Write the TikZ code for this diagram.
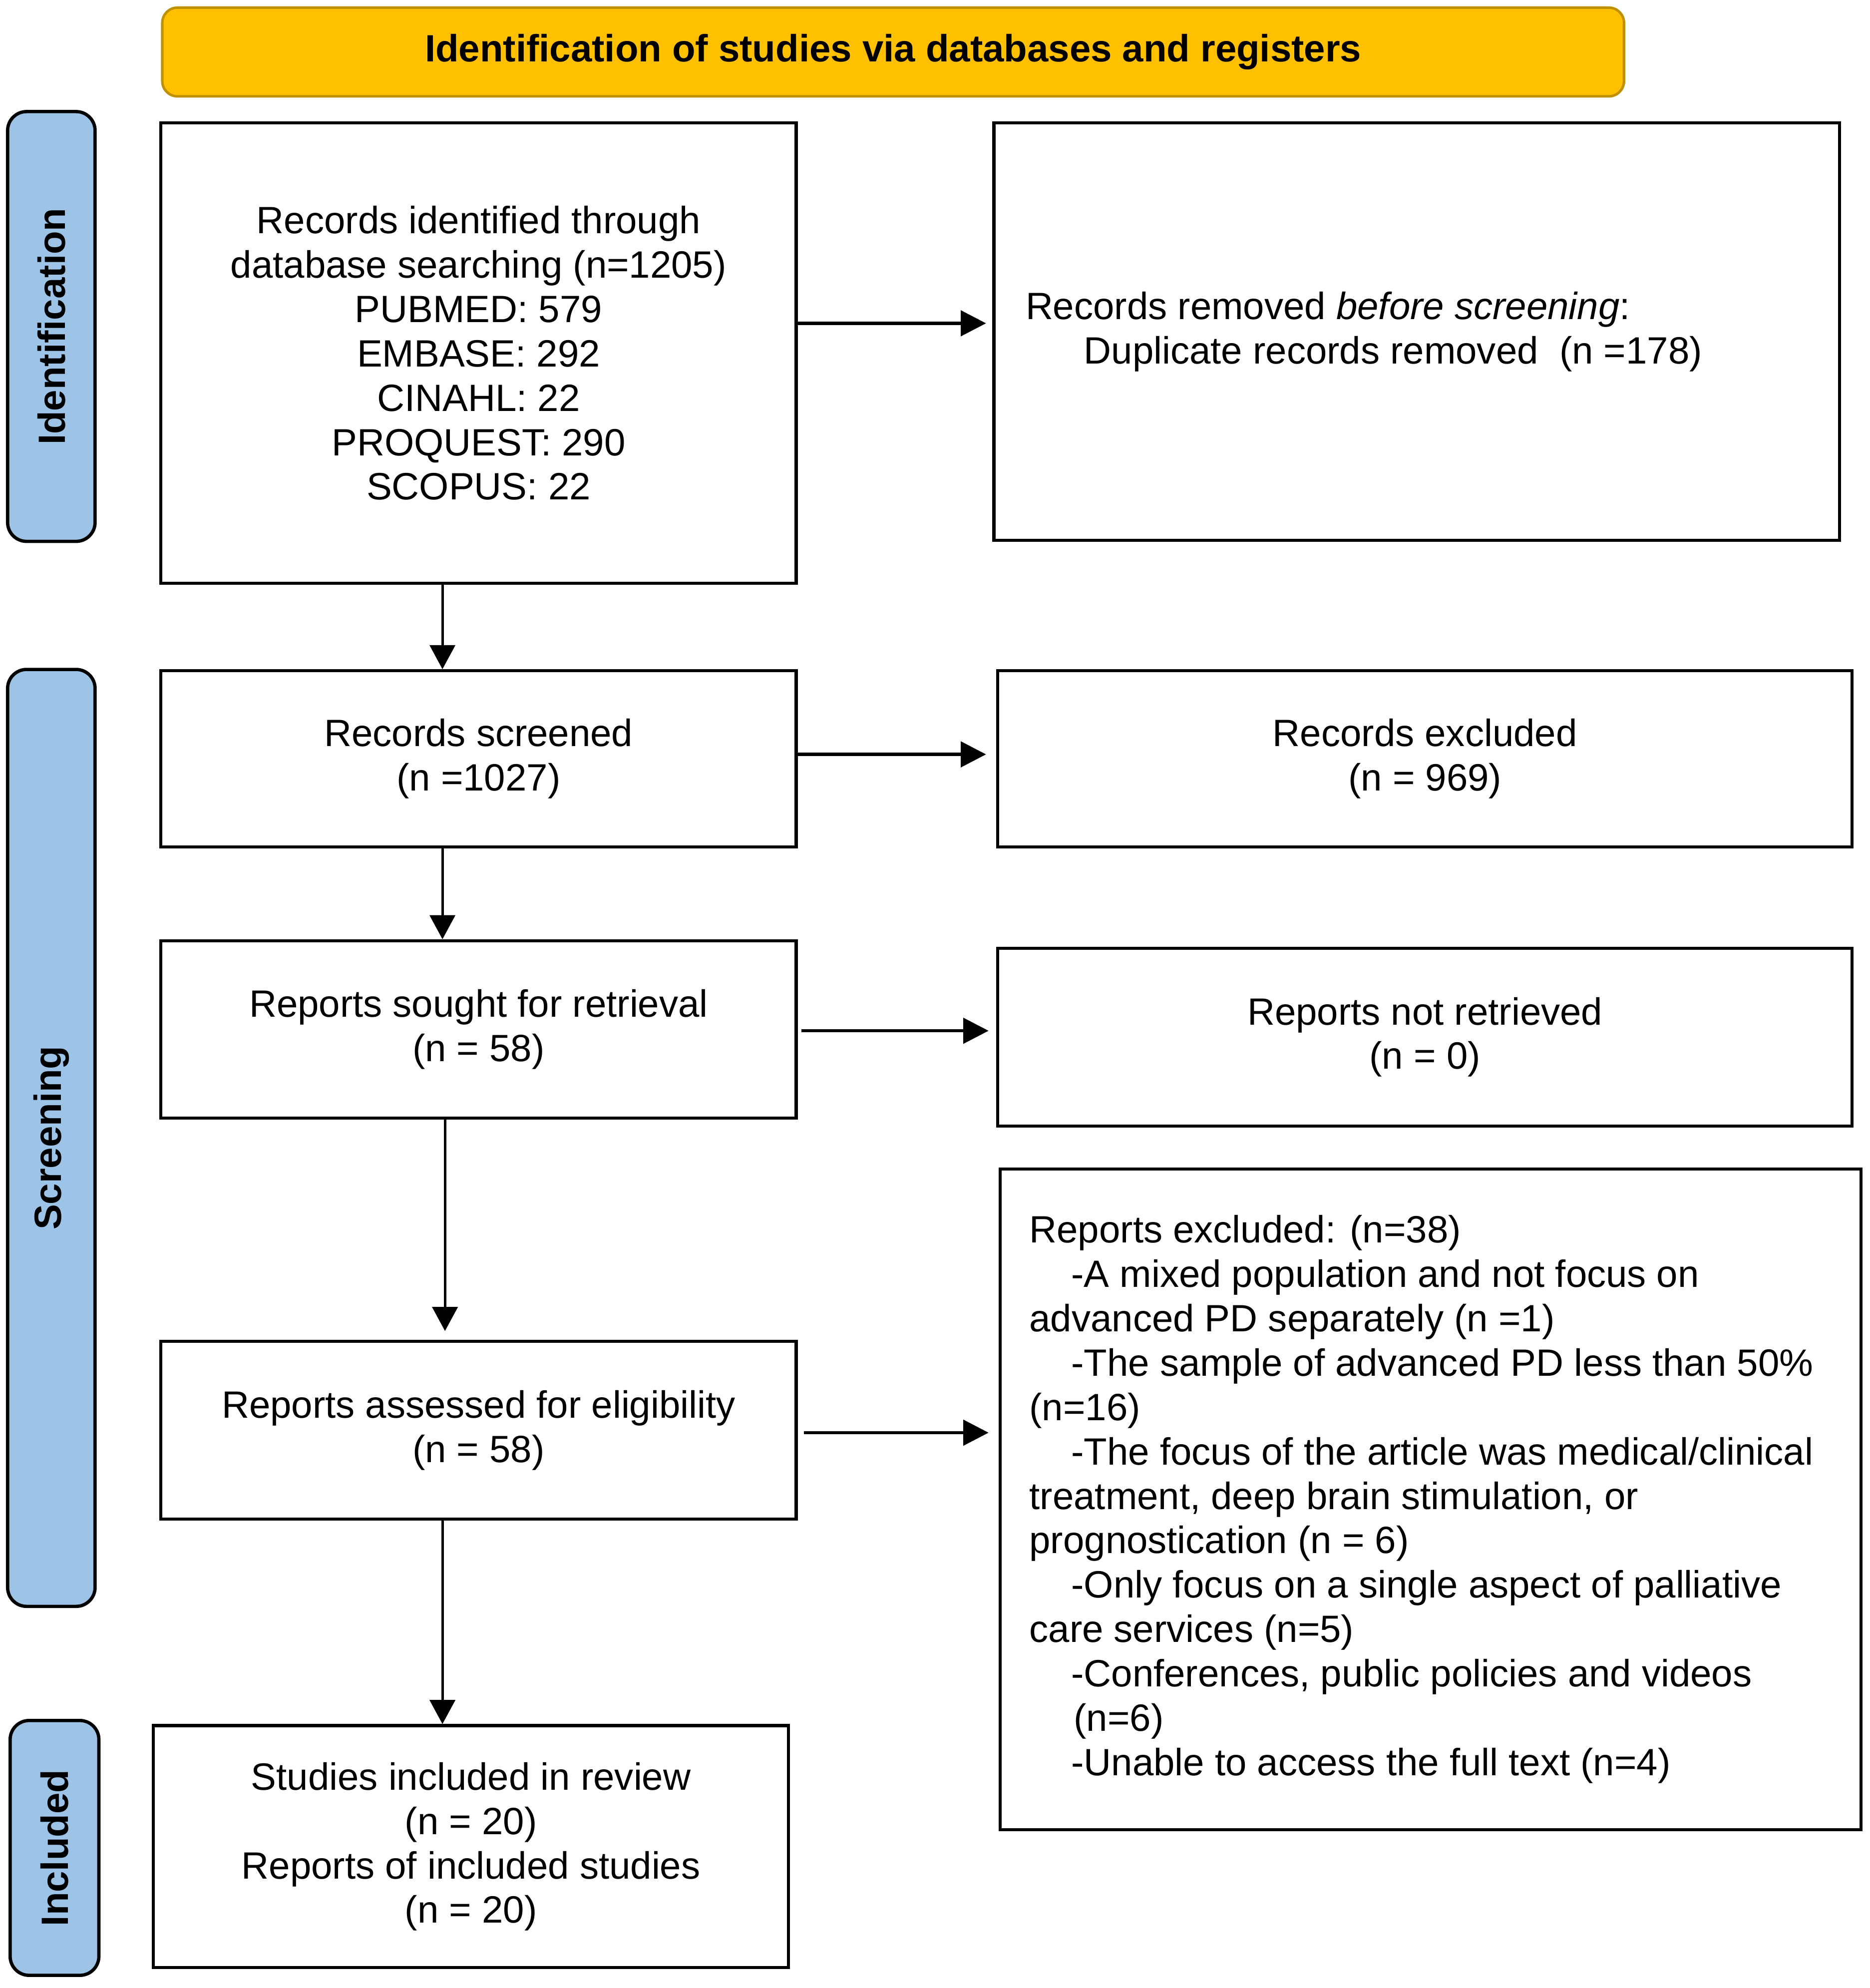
\documentclass[tikz,border=0pt]{standalone}
\usepackage{fontspec}
\setmainfont{Liberation Sans}
\usetikzlibrary{arrows.meta,positioning}
\definecolor{bannerfill}{HTML}{FFC000}
\definecolor{bannerline}{HTML}{BF9000}
\definecolor{barfill}{HTML}{9DC3E6}
\tikzset{
  box/.style={draw=black, line width=2.4pt, rectangle, align=center, inner sep=0pt,
    font=\fontsize{30}{35}\selectfont},
  txt/.style={align=left, inner sep=0pt, font=\fontsize{30}{35}\selectfont},
  bar/.style={draw=black, fill=barfill, line width=2.6pt, rounded corners=15pt, inner sep=0pt},
  barlabel/.style={rotate=90, font=\fontsize{30}{35}\selectfont\bfseries, inner sep=0pt},
  harrow/.style={line width=2.6pt, -{Triangle[length=20pt,width=20pt]}},
  varrow/.style={line width=2pt, -{Triangle[length=19pt,width=20pt]}}
}
\begin{document}
\begin{tikzpicture}[x=1pt,y=-1pt]
\useasboundingbox (0,0) rectangle (1474.7,1568);
% banner
\node[draw=bannerline, fill=bannerfill, line width=2pt, rounded corners=12pt,
  minimum width=1153pt, minimum height=70pt, inner sep=0pt,
  font=\fontsize{30}{34}\selectfont\bfseries] (banner) at (704.5,41)
  {Identification of studies via databases and registers};
% side bars
\node[bar, minimum width=69pt, minimum height=339pt] (barid) at (40.5,257.5) {};
\node[barlabel] (labid) at (barid.center) {Identification};
\node[bar, minimum width=69pt, minimum height=739pt] (barsc) at (40.5,897.5) {};
\node[barlabel] (labsc) at (barsc.center) {Screening};
\node[bar, minimum width=70pt, minimum height=201pt] (barin) at (43,1457.5) {};
\node[barlabel] (labin) at (barin.center) {Included};
% boxes
\node[box, minimum width=501pt, minimum height=363pt] (b1) at (377.5,278.5)
  {Records identified through\\database searching (n=1205)\\PUBMED: 579\\EMBASE: 292\\CINAHL: 22\\PROQUEST: 290\\SCOPUS: 22};
\node[box, minimum width=667pt, minimum height=329pt] (b2) at (1117.5,261.5) {};
\node[txt, anchor=west] (t2) at ([xshift=26pt]b2.west)
  {Records removed \textit{before screening}:\\\hspace*{46pt}Duplicate records removed\ \ (n =178)};
\node[box, minimum width=501pt, minimum height=139pt] (b3) at (377.5,598.5)
  {Records screened\\(n =1027)};
\node[box, minimum width=674pt, minimum height=139pt] (b4) at (1124,598.5)
  {Records excluded\\(n = 969)};
\node[box, minimum width=501pt, minimum height=140pt] (b5) at (377.5,812)
  {Reports sought for retrieval\\(n = 58)};
\node[box, minimum width=674pt, minimum height=140pt] (b6) at (1124,818)
  {Reports not retrieved\\(n = 0)};
\node[box, minimum width=501pt, minimum height=140pt] (b7) at (377.5,1128)
  {Reports assessed for eligibility\\(n = 58)};
\node[box, minimum width=679pt, minimum height=521pt] (b8) at (1128.5,1182.5) {};
\node[txt, anchor=west] (t8) at ([xshift=24pt]b8.west)
  {Reports excluded: (n=38)\\
   \hspace*{33pt}-A mixed population and not focus on\\
   advanced PD separately (n =1)\\
   \hspace*{33pt}-The sample of advanced PD less than 50\%\\
   (n=16)\\
   \hspace*{33pt}-The focus of the article was medical/clinical\\
   treatment, deep brain stimulation, or\\
   prognostication (n = 6)\\
   \hspace*{33pt}-Only focus on a single aspect of palliative\\
   care services (n=5)\\
   \hspace*{33pt}-Conferences, public policies and videos\\
   \hspace*{35pt}(n=6)\\
   \hspace*{33pt}-Unable to access the full text (n=4)};
\node[box, minimum width=501pt, minimum height=191pt] (b9) at (371.5,1456.5)
  {Studies included in review\\(n = 20)\\Reports of included studies\\(n = 20)};
% horizontal arrows
\draw[harrow] ([yshift=23.5pt]b1.east) -- ([yshift=23.5pt,xshift=-5pt]b1.east -| b2.west);
\draw[harrow] ([yshift=3.5pt]b3.east) -- ([yshift=3.5pt,xshift=-8pt]b3.east -| b4.west);
\draw[harrow] ([yshift=-1pt,xshift=3pt]b5.east) -- ([yshift=-1pt,xshift=-6pt]b5.east -| b6.west);
\draw[harrow] ([yshift=-2pt,xshift=5pt]b7.east) -- ([yshift=-2pt,xshift=-8pt]b7.east -| b8.west);
% vertical arrows
\draw[varrow] ([xshift=-28.5pt]b1.south) -- ([xshift=-28.5pt]b3.north);
\draw[varrow] ([xshift=-28.5pt]b3.south) -- ([xshift=-28.5pt]b5.north);
\draw[varrow] ([xshift=-26.5pt]b5.south) -- ([xshift=-26.5pt,yshift=7pt]b7.north);
\draw[varrow] ([xshift=-28.5pt]b7.south) -- ([xshift=-28.5pt]b7.south |- b9.north);
\end{tikzpicture}
\end{document}
